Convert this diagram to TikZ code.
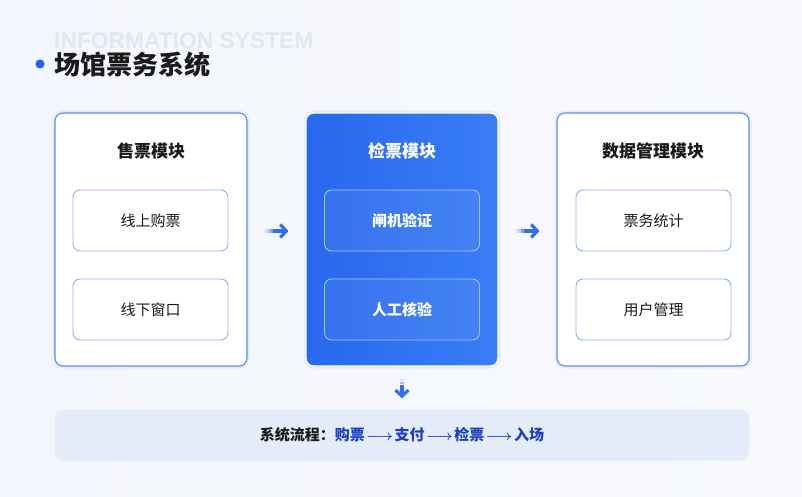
\documentclass[tikz,border=0pt]{standalone}
\usepackage{fontspec}
\newfontfamily\cjk{Noto Sans CJK SC}
\newfontfamily\latinsans{Liberation Sans}
\usetikzlibrary{arrows.meta}
\definecolor{bgl}{HTML}{F3F6FC}
\definecolor{bgr}{HTML}{F7F9FD}
\definecolor{panelborder}{HTML}{5A8EF0}
\definecolor{subborder}{HTML}{8DB0F2}
\definecolor{midl}{HTML}{2868EE}
\definecolor{midr}{HTML}{3A7DF5}
\definecolor{arrowblue}{HTML}{2F6FF0}
\definecolor{dotblue}{HTML}{1F63F0}
\definecolor{barfill}{HTML}{E4ECFA}
\definecolor{flowblue}{HTML}{1C3FC0}
\definecolor{ghost}{HTML}{E2E6EF}
\definecolor{ink}{HTML}{1A1A1A}
\definecolor{glow}{HTML}{DDE5F3}
\newcommand\flowarr{\kern1.5pt{\boldmath$\longrightarrow$}\kern1.5pt}
\begin{document}
\begin{tikzpicture}[x=1pt,y=-1pt,font=\cjk,
  panel/.style={draw=panelborder,line width=1.1pt,rounded corners=8pt,fill=white,
    minimum width=192pt,minimum height=253pt,inner sep=0pt,
    preaction={draw=glow,line width=5pt,draw opacity=0.6}},
  midpanel/.style={panel,draw=white,left color=midl,right color=midr},
  ptitle/.style={font=\cjk\bfseries\fontsize{17}{20}\selectfont,text=ink},
  subbox/.style={draw=subborder,line width=0.9pt,rounded corners=7pt,fill=white,
    minimum width=155pt,minimum height=61pt,inner sep=0pt,
    font=\cjk\fontsize{15}{18}\selectfont,text=ink},
  midsub/.style={subbox,draw=white!55!midr,fill=white,fill opacity=0.06,text opacity=1,text=white},
  flow/.style={draw=arrowblue,line width=3.2pt,-{Straight Barb[length=6pt,width=13pt,line width=3.2pt]}},
  tail/.style={draw=arrowblue,line width=3.2pt,draw opacity=#1}
]
\useasboundingbox (0,0) rectangle (802,497);
\fill[left color=bgl,right color=bgr] (0,0) rectangle (802,497);

% header
\node[anchor=west,inner sep=0pt,text=ghost,font=\latinsans\bfseries\fontsize{22.8}{25}\selectfont] (ghost) at (54,40.5) {INFORMATION SYSTEM};
\node[circle,fill=dotblue,minimum size=9pt,inner sep=0pt] (dot) at (40,64) {};
\node[anchor=west,inner sep=0pt,text=ink,font=\cjk\bfseries\fontsize{26}{30}\selectfont] (title) at (54,65) {场馆票务系统};

% panels
\node[panel] (p1) at (151,239.5) {};
\node[midpanel] (p2) at (402,239.5) {};
\node[panel] (p3) at (653,239.5) {};

\node[ptitle] (t1) at (151,151) {售票模块};
\node[ptitle,text=white] (t2) at (402,151) {检票模块};
\node[ptitle] (t3) at (653,151) {数据管理模块};

\node[subbox] (s11) at (150.5,220.5) {线上购票};
\node[subbox] (s12) at (150.5,309.5) {线下窗口};
\node[midsub] (s21) at (402,220.5) {\bfseries 闸机验证};
\node[midsub] (s22) at (402,309.5) {\bfseries 人工核验};
\node[subbox] (s31) at (653.5,220.5) {票务统计};
\node[subbox] (s32) at (653.5,309.5) {用户管理};

% bottom bar
\node[rounded corners=8pt,fill=barfill,minimum width=694pt,minimum height=51pt,inner sep=0pt,
  font=\cjk\bfseries\fontsize{15}{18}\selectfont,text=ink] (bar) at (402,435)
  {系统流程：\textcolor{flowblue}{购票\flowarr 支付\flowarr 检票\flowarr 入场}};

% connectors (faded tail + solid arrow)
\foreach \a/\b in {p1/p2,p2/p3}{
  \draw[tail=0.12,shorten <=16pt,shorten >=38pt] ([yshift=8.5pt]\a.east) -- ([yshift=8.5pt]\b.west);
  \draw[tail=0.3,shorten <=19pt,shorten >=35pt] ([yshift=8.5pt]\a.east) -- ([yshift=8.5pt]\b.west);
  \draw[tail=0.6,shorten <=22pt,shorten >=32pt] ([yshift=8.5pt]\a.east) -- ([yshift=8.5pt]\b.west);
  \draw[flow,shorten <=25pt,shorten >=17pt] ([yshift=8.5pt]\a.east) -- ([yshift=8.5pt]\b.west);
}
\draw[tail=0.15,shorten <=12pt,shorten >=28pt] (p2.south) -- (bar.north);
\draw[tail=0.45,shorten <=15pt,shorten >=25pt] (p2.south) -- (bar.north);
\draw[flow,shorten <=18pt,shorten >=11pt] (p2.south) -- (bar.north);
\end{tikzpicture}
\end{document}
